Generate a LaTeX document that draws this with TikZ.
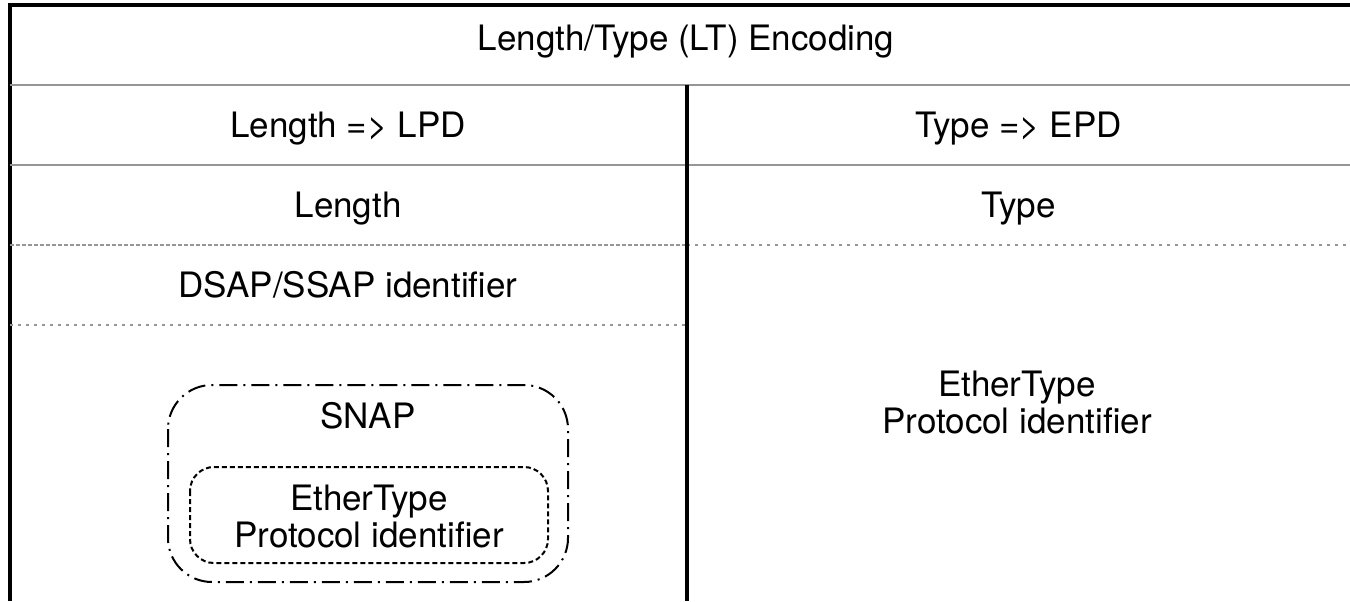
\documentclass[tikz,border=0pt]{standalone}
\usepackage{fontspec}
\setmainfont{TeX Gyre Heros}
\usetikzlibrary{positioning}
\definecolor{rulegray}{RGB}{150,150,150}
\tikzset{
  txt/.style = {font=\fontsize{17.5}{18.5}\selectfont, inner sep=0pt, align=center},
  thick rule/.style = {line width=2pt, black},
  thin rule/.style = {line width=1pt, rulegray},
  fine dash/.style = {thin rule, dash pattern=on 2pt off 1pt},
  sparse dash/.style = {thin rule, dash pattern=on 1.5pt off 2.5pt},
  snapbox/.style = {line width=1pt, rounded corners=22pt, dash pattern=on 9pt off 3pt on 1pt off 3pt},
  etherbox/.style = {line width=1pt, rounded corners=12pt, dash pattern=on 2.5pt off 1.5pt}
}

\begin{document}
\begin{tikzpicture}[x=0.5pt, y=-0.5pt]
                \useasboundingbox (0,0) rectangle (1350,601);
                % table rules
                \draw [thick rule, line join=miter] (9.5,601) -- (9.5,5) -- (1350,5);
                \draw [thin rule] (9.5,85) -- (1350,85);
                \draw [thin rule] (9.5,165) -- (1350,165);
                \draw [fine dash] (9.5,245) -- (687,245);
                \draw [sparse dash] (687,245) -- (1350,245);
                \draw [sparse dash] (9.5,325) -- (687,325);
                \draw [thick rule] (687,85) -- (687,601);

                \node[txt, anchor=base] at (686,50) (LT) {Length/Type (LT) Encoding};
                \node[txt, anchor=base] at (348,137) (LPD) {Length =\textgreater{} LPD};
                \node[txt, anchor=base] at (1018.5,137) (EPD) {Type =\textgreater{} EPD};
                \node[txt, anchor=base] at (348,217) (Len) {Length};
                \node[txt, anchor=base] at (1018.5,217) (Typ) {Type};
                \node[txt, anchor=base] at (348,297) (DSAP) {DSAP/SSAP identifier};
                \node[txt] at (1017,402.5) (ETR) {EtherType\\Protocol identifier};

                % SNAP header
                \draw [snapbox] (168,385) rectangle (568,582);
                \draw [etherbox] (190,467) rectangle (548,563);
                \node[txt, anchor=base] at (368,428) (SNAP) {SNAP};
                \node[txt] at (369,516.5) (ETL) {EtherType\\Protocol identifier};
            \end{tikzpicture}
\end{document}
